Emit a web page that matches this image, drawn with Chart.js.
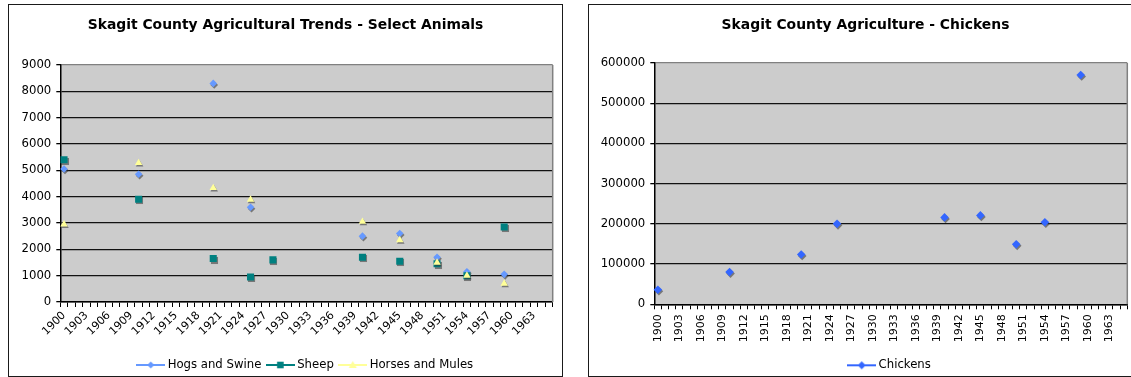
<!DOCTYPE html>
<html>
<head>
<meta charset="utf-8">
<title>Skagit County Agriculture</title>
<script src="https://cdn.jsdelivr.net/npm/chart.js@4/dist/chart.umd.min.js"></script>
<style>
  html, body { margin: 0; padding: 0; background: #fff; width: 1131px; height: 377px; overflow: hidden; position: relative; }
  .frame { position: absolute; top: 4px; width: 553px; height: 371px; border: 1px solid #1a1a1a; overflow: hidden; background: #fff; }
  #frameAnimals { left: 8px; }
  #frameChickens { left: 588px; }
  canvas { display: block; }
</style>
</head>
<body>
<div class="frame" id="frameAnimals"><canvas id="animals" width="553" height="380"></canvas></div>
<div class="frame" id="frameChickens"><canvas id="chickens" width="553" height="380"></canvas></div>
<script>
// Year axis: one category per year, every third year labelled
const firstYear = 1900;
const lastYear = 1965;
const labelEvery = 3;

// Livestock counts by census year
const hogYears   = [1900, 1910, 1920, 1925, 1940, 1945, 1950, 1954, 1959];
const hogs       = [5050, 4850, 8300, 3600, 2500, 2600, 1700, 1150, 1050];
const sheepYears = [1900, 1910, 1920, 1925, 1928, 1940, 1945, 1950, 1954, 1959];
const sheep      = [5400, 3900, 1650, 950, 1600, 1700, 1550, 1450, 1000, 2850];
const horseYears = [1900, 1910, 1920, 1925, 1940, 1945, 1950, 1954, 1959];
const horses     = [2950, 5280, 4330, 3890, 3050, 2350, 1500, 1000, 700];

// Chicken counts by census year
const chickenYears = [1900, 1910, 1920, 1925, 1940, 1945, 1950, 1954, 1959];
const chickens     = [36000, 80000, 124000, 200000, 216000, 221000, 149000, 204000, 570000];

// Value axes
const animalMax = 9000, animalStep = 1000;
const chickenMax = 600000, chickenStep = 100000;

const yearLabels = [];
for (let y = firstYear; y <= lastYear; y++) yearLabels.push(String(y));

function points(years, values) {
  return years.map((y, i) => ({ x: String(y), y: values[i] }));
}

Chart.defaults.font.family = "'DejaVu Sans', Verdana, sans-serif";
Chart.defaults.font.size = 11.7;
Chart.defaults.color = '#000';

const PLOT_BG = '#cccccc';
const PLOT_EDGE = '#808080';

// Grey plot background, grey right edge, and a soft drop shadow under the markers
const plotFrame = {
  id: 'plotFrame',
  beforeDraw(chart) {
    const { ctx, chartArea: a } = chart;
    ctx.save();
    ctx.fillStyle = PLOT_BG;
    ctx.fillRect(a.left, a.top, a.width, a.height);
    ctx.restore();
  },
  beforeDatasetsDraw(chart) {
    const { ctx, chartArea: a } = chart;
    ctx.save();
    ctx.strokeStyle = PLOT_EDGE;
    ctx.lineWidth = 1.5;
    ctx.beginPath();
    ctx.moveTo(a.right, a.top);
    ctx.lineTo(a.right, a.bottom);
    ctx.stroke();
    ctx.restore();
    ctx.save();
    ctx.shadowColor = 'rgba(50,50,50,0.55)';
    ctx.shadowOffsetX = 1;
    ctx.shadowOffsetY = 1.5;
    ctx.shadowBlur = 0.5;
  },
  afterDatasetsDraw(chart) {
    chart.ctx.restore();
  }
};

// Legend key: a short line with the series marker in its middle
function legendSwatch(color, shape, size) {
  const c = document.createElement('canvas');
  c.width = 29; c.height = 12;
  const g = c.getContext('2d');
  const cx = 14.5, cy = 6;
  g.strokeStyle = color;
  g.lineWidth = 2;
  g.beginPath(); g.moveTo(0, cy); g.lineTo(29, cy); g.stroke();
  g.fillStyle = color;
  g.beginPath();
  if (shape === 'diamond') {
    g.moveTo(cx, cy - size); g.lineTo(cx + size, cy); g.lineTo(cx, cy + size); g.lineTo(cx - size, cy);
  } else if (shape === 'square') {
    g.rect(cx - size, cy - size, 2 * size, 2 * size);
  } else {
    g.moveTo(cx, cy - size); g.lineTo(cx + size, cy + size * 0.75); g.lineTo(cx - size, cy + size * 0.75);
  }
  g.closePath();
  g.fill();
  return c;
}

function legendOptions(swatches) {
  return {
    position: 'bottom',
    fullSize: false,
    labels: {
      usePointStyle: true,
      pointStyleWidth: 22,
      padding: 8,
      color: '#000',
      font: { size: 11.7 },
      sort: (a, b) => a.datasetIndex - b.datasetIndex,
      generateLabels(chart) {
        const items = Chart.defaults.plugins.legend.labels.generateLabels(chart);
        items.forEach(it => { it.pointStyle = swatches[it.datasetIndex]; });
        return items;
      }
    }
  };
}

function xAxis(rotation, height, pad, fontSize) {
  return {
    type: 'category',
    offset: true,
    grid: { display: true, drawOnChartArea: false, offset: true, tickLength: 5, color: '#000', lineWidth: 1 },
    border: { display: true, color: '#000', width: 1.5 },
    ticks: {
      autoSkip: false,
      minRotation: rotation,
      maxRotation: rotation,
      padding: pad,
      color: '#000',
      font: { size: fontSize },
      callback: function (val, idx) { return idx % labelEvery === 0 ? this.getLabelForValue(val) : ''; }
    },
    afterFit(scale) { scale.height = height; }
  };
}

function yAxis(max, step, width) {
  return {
    min: 0,
    max: max,
    grid: {
      color: ctx => (ctx.tick && ctx.tick.value === max) ? PLOT_EDGE : '#111',
      lineWidth: 1.3,
      tickLength: 4,
      tickColor: '#000'
    },
    border: { display: true, color: '#000', width: 1.5 },
    ticks: {
      stepSize: step,
      padding: 5,
      color: '#000',
      font: { size: 11.7 },
      callback: v => String(v)
    },
    afterFit(scale) { scale.width = width; }
  };
}

function titleOptions(text, bottom) {
  return {
    display: true,
    text: text,
    color: '#000',
    font: { size: 13.9, weight: 'bold' },
    padding: { top: 11.7, bottom: bottom }
  };
}

const HOG_COLOR = '#6699ff';
const SHEEP_COLOR = '#008080';
const HORSE_COLOR = '#ffff99';
const CHICKEN_COLOR = '#3366ff';

new Chart(document.getElementById('animals'), {
  type: 'line',
  data: {
    labels: yearLabels,
    datasets: [
      { label: 'Hogs and Swine', data: points(hogYears, hogs), order: 3, showLine: false,
        borderColor: HOG_COLOR, backgroundColor: HOG_COLOR, pointStyle: 'rectRot', pointRadius: 3.8, pointBorderWidth: 0 },
      { label: 'Sheep', data: points(sheepYears, sheep), order: 2, showLine: false,
        borderColor: SHEEP_COLOR, backgroundColor: SHEEP_COLOR, pointStyle: 'rect', pointRadius: 5, pointBorderWidth: 0 },
      { label: 'Horses and Mules', data: points(horseYears, horses), order: 1, showLine: false,
        borderColor: HORSE_COLOR, backgroundColor: HORSE_COLOR, pointStyle: 'triangle', pointRadius: 4.3, pointBorderWidth: 0 }
    ]
  },
  options: {
    responsive: false,
    animation: false,
    events: [],
    layout: { padding: { left: 9.3, right: 9.3, top: 0, bottom: 4.15 } },
    scales: {
      x: xAxis(45, 49.15, 2, 11),
      y: yAxis(animalMax, animalStep, 42)
    },
    plugins: {
      title: titleOptions('Skagit County Agricultural Trends - Select Animals', 31.6),
      legend: legendOptions([
        legendSwatch(HOG_COLOR, 'diamond', 3.5),
        legendSwatch(SHEEP_COLOR, 'square', 3.3),
        legendSwatch(HORSE_COLOR, 'triangle', 4)
      ]),
      tooltip: { enabled: false }
    }
  },
  plugins: [plotFrame]
});

new Chart(document.getElementById('chickens'), {
  type: 'line',
  data: {
    labels: yearLabels,
    datasets: [
      { label: 'Chickens', data: points(chickenYears, chickens), showLine: false,
        borderColor: CHICKEN_COLOR, backgroundColor: CHICKEN_COLOR, pointStyle: 'rectRot', pointRadius: 4.3, pointBorderWidth: 0 }
    ]
  },
  options: {
    responsive: false,
    animation: false,
    events: [],
    layout: { padding: { left: 11, right: 11, top: 0, bottom: 3.85 } },
    scales: {
      x: xAxis(90, 47.15, 5, 11),
      y: yAxis(chickenMax, chickenStep, 54.3)
    },
    plugins: {
      title: titleOptions('Skagit County Agriculture - Chickens', 29.6),
      legend: legendOptions([legendSwatch(CHICKEN_COLOR, 'diamond', 4)]),
      tooltip: { enabled: false }
    }
  },
  plugins: [plotFrame]
});
</script>
</body>
</html>
